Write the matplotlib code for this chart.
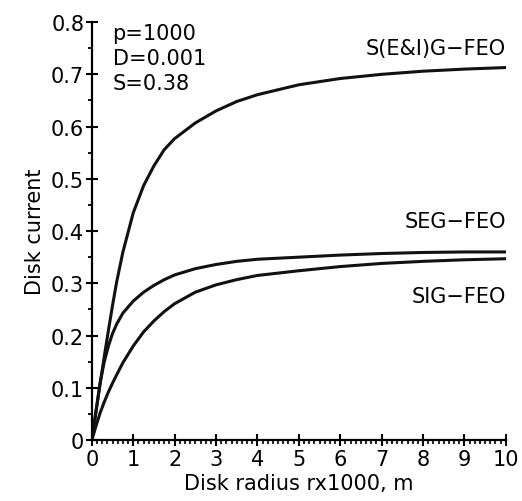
import matplotlib
matplotlib.use("Agg")
import matplotlib.pyplot as plt
from matplotlib.ticker import MultipleLocator

# values
radius = [0, 0.1, 0.2, 0.3, 0.4, 0.5, 0.6, 0.75, 1.0, 1.25, 1.5, 1.75, 2.0,
          2.5, 3.0, 3.5, 4.0, 5.0, 6.0, 7.0, 8.0, 9.0, 10.0]
sei_g = [0, 0.055, 0.108, 0.160, 0.210, 0.258, 0.303, 0.360, 0.435, 0.487, 0.525, 0.556, 0.577,
         0.607, 0.630, 0.648, 0.661, 0.680, 0.692, 0.700, 0.706, 0.710, 0.713]
seg = [0, 0.055, 0.110, 0.150, 0.180, 0.204, 0.222, 0.243, 0.266, 0.283, 0.296, 0.307, 0.316,
       0.328, 0.336, 0.342, 0.346, 0.350, 0.354, 0.357, 0.359, 0.360, 0.360]
sig = [0, 0.027, 0.052, 0.073, 0.092, 0.109, 0.125, 0.148, 0.180, 0.207, 0.228, 0.246, 0.261,
       0.283, 0.297, 0.307, 0.315, 0.324, 0.332, 0.338, 0.342, 0.345, 0.347]

curve_names = ["S(E&I)G\u2212FEO", "SEG\u2212FEO", "SIG\u2212FEO"]
params = ["p=1000", "D=0.001", "S=0.38"]

plt.rcParams["font.family"] = ["DejaVu Sans"]

fig = plt.figure(figsize=(5.22, 5.02), dpi=100)
ax = fig.add_axes([0.176, 0.1215, 0.793, 0.8325])

lw = 2.2
for ys in (sei_g, seg, sig):
    ax.plot(radius, ys, color="#111111", lw=lw, solid_capstyle="round", solid_joinstyle="round")

ax.set_xlim(0, 10)
ax.set_ylim(0, 0.8)

for s in ["top", "right"]:
    ax.spines[s].set_visible(False)
for s in ["left", "bottom"]:
    ax.spines[s].set_linewidth(1.6)

ax.xaxis.set_major_locator(MultipleLocator(1))
ax.xaxis.set_minor_locator(MultipleLocator(0.125))
ax.yaxis.set_major_locator(MultipleLocator(0.1))
ax.yaxis.set_minor_locator(MultipleLocator(0.05))

ax.yaxis.set_major_formatter(plt.FuncFormatter(lambda v, p: "0" if abs(v) < 1e-9 else f"{v:.1f}"))

ax.tick_params(axis="y", which="major", direction="inout", length=9, width=1.5, labelsize=15, pad=1)
ax.tick_params(axis="y", which="minor", direction="out", length=3, width=1.3)
ax.tick_params(axis="x", which="major", direction="inout", length=9, width=1.5, labelsize=15, pad=2)
ax.tick_params(axis="x", which="minor", direction="out", length=3, width=1.2)

ax.set_xlabel("Disk radius rx1000, m", fontsize=15, labelpad=3)
ax.set_ylabel("Disk current", fontsize=15, labelpad=4)

# parameter block in the top left
for i, t in enumerate(params):
    ax.text(0.5, 0.78 - i * 0.048, t, fontsize=15, ha="left", va="center")

# curve labels at the right end
label_y = [0.751, 0.419, 0.276]
for name, y in zip(curve_names, label_y):
    ax.text(10.0, y, name, fontsize=15, ha="right", va="center")

fig.savefig("out.png", dpi=100)
